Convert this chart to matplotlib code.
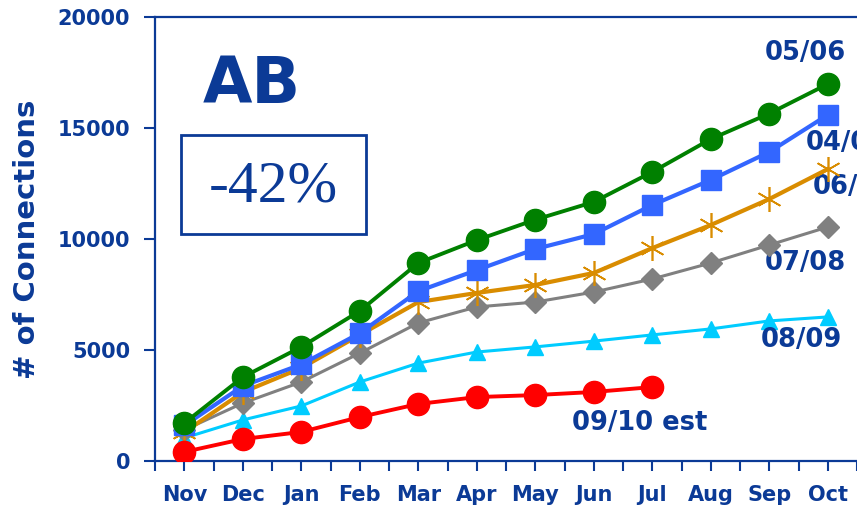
import matplotlib
matplotlib.use("Agg")
import matplotlib.pyplot as plt
from matplotlib.patches import Rectangle

months = ["Nov", "Dec", "Jan", "Feb", "Mar", "Apr", "May", "Jun", "Jul", "Aug", "Sep", "Oct"]
s0506 = [1710, 3780, 5140, 6760, 8920, 9950, 10870, 11670, 13020, 14500, 15650, 16980]
s0405 = [1600, 3380, 4350, 5760, 7650, 8600, 9550, 10220, 11530, 12660, 13920, 15590]
s0607 = [1300, 3100, 4190, 5680, 7160, 7570, 7930, 8470, 9590, 10630, 11800, 13150]
s0708 = [1400, 2610, 3560, 4860, 6220, 6940, 7160, 7610, 8200, 8920, 9730, 10540]
s0809 = [1040, 1850, 2480, 3560, 4410, 4910, 5140, 5400, 5680, 5950, 6310, 6490]
s0910 = [410, 990, 1310, 1980, 2570, 2880, 2970, 3110, 3330]
yticks = [0, 5000, 10000, 15000, 20000]

TXT = "#0B3A96"

fig = plt.figure(figsize=(8.57, 5.07), dpi=100)
ax = fig.add_axes([0.181, 0.0907, 0.819, 0.8758])

x = list(range(len(months)))
star = (6, 2, 0)
ax.plot(x, s0809, color="#00CCFF", lw=2.2, marker="^", ms=12, zorder=3)
ax.plot(x, s0708, color="#808080", lw=2.2, marker="D", ms=11, zorder=4)
ax.plot(x, s0607, color="#D98C00", lw=3.0, marker=star, ms=18, mew=1.2, zorder=5)
ax.plot(x, s0405, color="#3366FF", lw=3.0, marker="s", ms=14, zorder=6)
ax.plot(x, s0506, color="#008000", lw=2.8, marker="o", ms=16, zorder=7)
ax.plot(x[:len(s0910)], s0910, color="#FF0000", lw=2.8, marker="o", ms=16, zorder=8)

ax.set_xlim(-0.5, 11.5)
ax.set_ylim(0, 20000)
ax.set_yticks(yticks)
ax.set_xticks(x)
ax.set_xticklabels(months)
ax.set_xticks([i - 0.5 for i in range(13)], minor=True)

for side in ["left", "bottom", "top"]:
    ax.spines[side].set_color(TXT)
    ax.spines[side].set_linewidth(1.6)
ax.spines["right"].set_visible(False)

ax.tick_params(axis="y", direction="out", length=8, width=1.5, color=TXT,
               labelcolor=TXT, labelsize=15, pad=10)
ax.tick_params(axis="x", which="both", direction="out", length=7, width=1.5,
               color=TXT, labelcolor=TXT, labelsize=15, pad=10)
for lab in ax.get_xticklabels() + ax.get_yticklabels():
    lab.set_fontweight("bold")

ax.set_ylabel("# of Connections", fontsize=21, fontweight="bold", color=TXT, labelpad=12)

lab_kw = dict(fontsize=18.5, fontweight="bold", color=TXT, clip_on=False)
ax.text(10.62, 18380, "05/06", ha="center", va="center", **lab_kw)
ax.text(10.63, 14320, "04/05", ha="left", va="center", **lab_kw)
ax.text(10.75, 12340, "06/07", ha="left", va="center", **lab_kw)
ax.text(10.61, 8920, "07/08", ha="center", va="center", **lab_kw)
ax.text(10.55, 5450, "08/09", ha="center", va="center", **lab_kw)
ax.text(7.79, 1710, "09/10 est", ha="center", va="center", **lab_kw)

ax.text(0.138, 0.847, "AB", transform=ax.transAxes, ha="center", va="center",
        fontsize=46, fontweight="bold", color=TXT)
ax.add_patch(Rectangle((0.037, 0.511), 0.2636, 0.223, transform=ax.transAxes,
                       fill=False, edgecolor=TXT, lw=2, zorder=10))
ax.text(0.168, 0.615, "-42%", transform=ax.transAxes, ha="center", va="center",
        fontsize=43, family="Liberation Serif", color=TXT)

fig.savefig("out.png", dpi=100)
